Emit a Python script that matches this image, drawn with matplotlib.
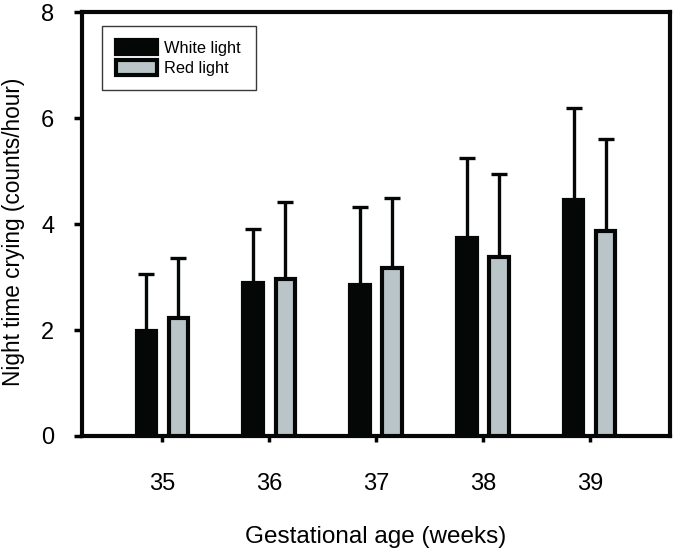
import matplotlib
matplotlib.use("Agg")
import matplotlib.pyplot as plt
import numpy as np

plt.rcParams['font.family'] = ['Liberation Sans', 'DejaVu Sans']

weeks = ['35', '36', '37', '38', '39']
white_mean = [1.98, 2.89, 2.85, 3.74, 4.46]
white_err = [1.07, 1.02, 1.48, 1.50, 1.73]
red_mean = [2.22, 2.97, 3.18, 3.38, 3.88]
red_err = [1.15, 1.45, 1.31, 1.56, 1.72]
series_labels = ['White light', 'Red light']

fig = plt.figure(figsize=(6.75, 5.54), dpi=100)
ax = fig.add_axes([0.1215, 0.213, 0.8711, 0.7648])

x = np.arange(len(weeks))
w = 0.18
off = 0.15
lw_edge = 3.0

ax.errorbar(x - off, white_mean, yerr=[np.zeros(len(weeks)), white_err], fmt='none',
            ecolor='#050707', elinewidth=2.4, capsize=6, capthick=2.4, zorder=2)
ax.errorbar(x + off, red_mean, yerr=[np.zeros(len(weeks)), red_err], fmt='none',
            ecolor='#050707', elinewidth=2.4, capsize=6, capthick=2.4, zorder=2)
ax.bar(x - off, white_mean, w, color='#050707', edgecolor='#050707', linewidth=lw_edge,
       label=series_labels[0], zorder=3)
ax.bar(x + off, red_mean, w, color='#b9c5c8', edgecolor='#050707', linewidth=lw_edge,
       label=series_labels[1], zorder=3)

ax.set_xlim(-0.75, 4.75)
ax.set_ylim(0, 8)
ax.set_yticks([0, 2, 4, 6, 8])
ax.set_xticks(x)
ax.set_xticklabels(weeks)

for s in ax.spines.values():
    s.set_linewidth(3.0)
    s.set_color('#050707')

ax.tick_params(axis='y', direction='out', length=5.5, width=2.5, pad=14.5, labelsize=17)
ax.tick_params(axis='x', direction='out', length=4, width=2.5, pad=23, labelsize=17)

ax.set_ylabel('Night time crying (counts/hour)', fontsize=16.3)
ax.set_xlabel('Gestational age (weeks)', fontsize=17.5)
ax.yaxis.set_label_coords(-0.097, 0.481)
ax.xaxis.set_label_coords(0.5, -0.212)

leg = ax.legend(loc='upper left', bbox_to_anchor=(0.034, 0.968, 0.262, 0.0),
                mode='expand', borderaxespad=0,
                fontsize=11.8, frameon=True, fancybox=False, edgecolor='#050707',
                handlelength=2.5, handleheight=1.0, handletextpad=0.42,
                labelspacing=0.28, borderpad=0.85)
leg.get_frame().set_linewidth(1.0)

fig.savefig('out.png', dpi=100)
